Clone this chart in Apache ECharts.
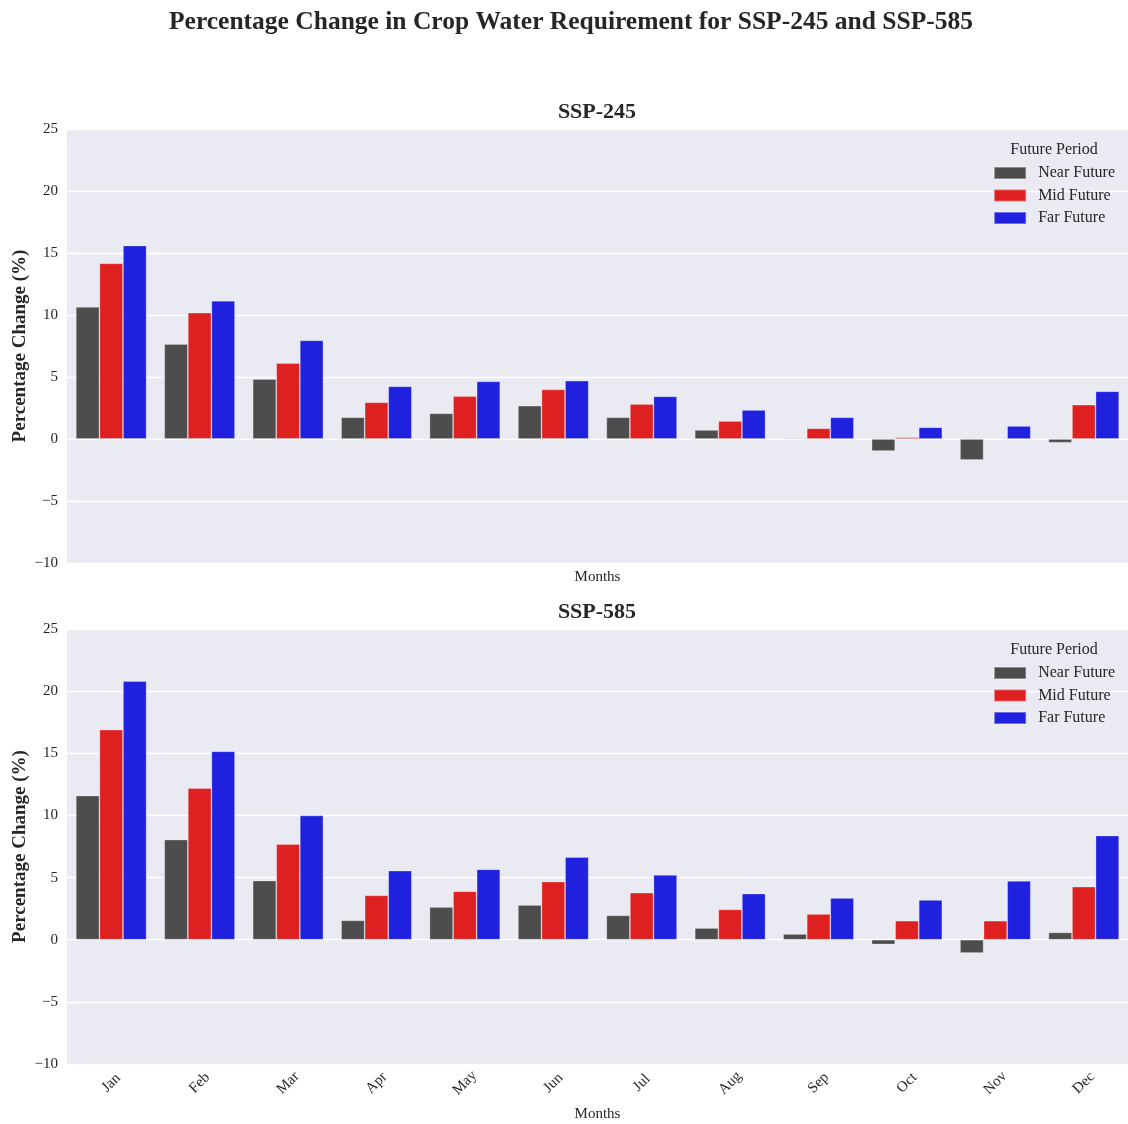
<!DOCTYPE html>
<html>
<head>
<meta charset="utf-8">
<script src="https://cdn.jsdelivr.net/npm/echarts@6/dist/echarts.min.js"></script>
<style>
  html, body { margin: 0; padding: 0; background: #ffffff; }
  #chart { width: 1128px; height: 1124px; }
</style>
</head>
<body>
<div id="chart"></div>
<script>
// Months on the category axis
const months = ['Jan', 'Feb', 'Mar', 'Apr', 'May', 'Jun', 'Jul', 'Aug', 'Sep', 'Oct', 'Nov', 'Dec'];
const periods = ['Near Future', 'Mid Future', 'Far Future'];

// SSP-245: percentage change in crop water requirement
const ssp245Near = [10.65, 7.66, 4.84, 1.75, 2.07, 2.69, 1.75, 0.73, 0.08, -0.97, -1.69, -0.30];
const ssp245Mid  = [14.17, 10.19, 6.13, 2.96, 3.45, 4.00, 2.82, 1.45, 0.86, 0.14, 0.00, 2.77];
const ssp245Far  = [15.60, 11.15, 7.96, 4.25, 4.65, 4.70, 3.44, 2.34, 1.75, 0.94, 1.05, 3.85];

// SSP-585: percentage change in crop water requirement
const ssp585Near = [11.60, 8.06, 4.76, 1.56, 2.63, 2.79, 1.96, 0.94, 0.46, -0.38, -1.07, 0.59];
const ssp585Mid  = [16.90, 12.20, 7.69, 3.57, 3.90, 4.68, 3.79, 2.44, 2.07, 1.53, 1.53, 4.27];
const ssp585Far  = [20.80, 15.16, 10.00, 5.56, 5.67, 6.64, 5.21, 3.71, 3.36, 3.20, 4.73, 8.38];

// Y axis tick range
const yMin = -10, yMax = 25, yStep = 5;

const colors = ['#4D4D4D', '#DF2020', '#2020DF'];
const serif = '"Liberation Serif", "DejaVu Serif", serif';

const chart = echarts.init(document.getElementById('chart'), null, { renderer: 'canvas' });

const gridBase = { left: 67, right: 0, backgroundColor: '#EAEAF2', show: true, borderWidth: 0, outerBoundsMode: 'none', containLabel: false };
const grids = [
  Object.assign({ top: 129, height: 434 }, gridBase),
  Object.assign({ top: 629, height: 435 }, gridBase)
];

function xAxis(gridIndex, showLabels) {
  return {
    type: 'category',
    gridIndex: gridIndex,
    data: months,
    name: 'Months',
    nameLocation: 'middle',
    nameGap: showLabels ? 43 : 7,
    nameMoveOverlap: false,
    nameTextStyle: { fontFamily: serif, fontSize: 15, color: '#262626' },
    axisLine: { show: false },
    axisTick: { show: false },
    splitLine: { show: false },
    axisLabel: {
      show: showLabels,
      rotate: 45,
      align: 'center',
      verticalAlign: 'middle',
      margin: 19,
      fontFamily: serif,
      fontSize: 15,
      color: '#262626'
    }
  };
}

function yAxis(gridIndex) {
  return {
    type: 'value',
    gridIndex: gridIndex,
    min: yMin,
    max: yMax,
    interval: yStep,
    name: 'Percentage Change (%)',
    nameLocation: 'middle',
    nameGap: 37,
    nameMoveOverlap: false,
    nameTextStyle: { fontFamily: serif, fontSize: 19, fontWeight: 'bold', color: '#262626' },
    axisLine: { show: false },
    axisTick: { show: false },
    splitLine: { show: true, lineStyle: { color: '#ffffff', width: 1.3 } },
    axisLabel: {
      margin: 9,
      fontFamily: serif,
      fontSize: 15,
      color: '#262626',
      formatter: v => (v < 0 ? '\u2212' + Math.abs(v) : String(v))
    }
  };
}

function bars(name, data, idx, axisIndex) {
  return {
    type: 'bar',
    name: name,
    xAxisIndex: axisIndex,
    yAxisIndex: axisIndex,
    data: data,
    barGap: '0%',
    barCategoryGap: '20%',
    itemStyle: {
      color: colors[idx],
      borderColor: 'rgba(255,255,255,0.35)',
      borderWidth: 0.8
    },
    emphasis: { disabled: true },
    animation: false
  };
}

function legend(top) {
  return {
    data: periods,
    orient: 'vertical',
    right: 8,
    top: top,
    icon: 'rect',
    itemWidth: 32,
    itemHeight: 12,
    itemGap: 6.5,
    textStyle: { fontFamily: serif, fontSize: 16, color: '#262626', padding: [0, 0, 0, 7] }
  };
}

const option = {
  backgroundColor: '#ffffff',
  color: colors,
  title: [
    {
      text: 'Percentage Change in Crop Water Requirement for SSP-245 and SSP-585',
      left: 566, top: 4, textAlign: 'center',
      textStyle: { fontFamily: serif, fontSize: 25.5, fontWeight: 'bold', color: '#262626' }
    },
    {
      text: 'SSP-245', left: 592, top: 96, textAlign: 'center',
      textStyle: { fontFamily: serif, fontSize: 22, fontWeight: 'bold', color: '#262626' }
    },
    {
      text: 'SSP-585', left: 592, top: 596, textAlign: 'center',
      textStyle: { fontFamily: serif, fontSize: 22, fontWeight: 'bold', color: '#262626' }
    },
    {
      text: 'Future Period', left: 1049, top: 137, textAlign: 'center',
      textStyle: { fontFamily: serif, fontSize: 16, fontWeight: 'normal', color: '#262626' }
    },
    {
      text: 'Future Period', left: 1049, top: 637, textAlign: 'center',
      textStyle: { fontFamily: serif, fontSize: 16, fontWeight: 'normal', color: '#262626' }
    }
  ],
  legend: [legend(160), legend(660)],
  grid: grids,
  xAxis: [xAxis(0, false), xAxis(1, true)],
  yAxis: [yAxis(0), yAxis(1)],
  series: [
    bars(periods[0], ssp245Near, 0, 0),
    bars(periods[1], ssp245Mid, 1, 0),
    bars(periods[2], ssp245Far, 2, 0),
    bars(periods[0], ssp585Near, 0, 1),
    bars(periods[1], ssp585Mid, 1, 1),
    bars(periods[2], ssp585Far, 2, 1)
  ]
};

chart.setOption(option);
</script>
</body>
</html>
